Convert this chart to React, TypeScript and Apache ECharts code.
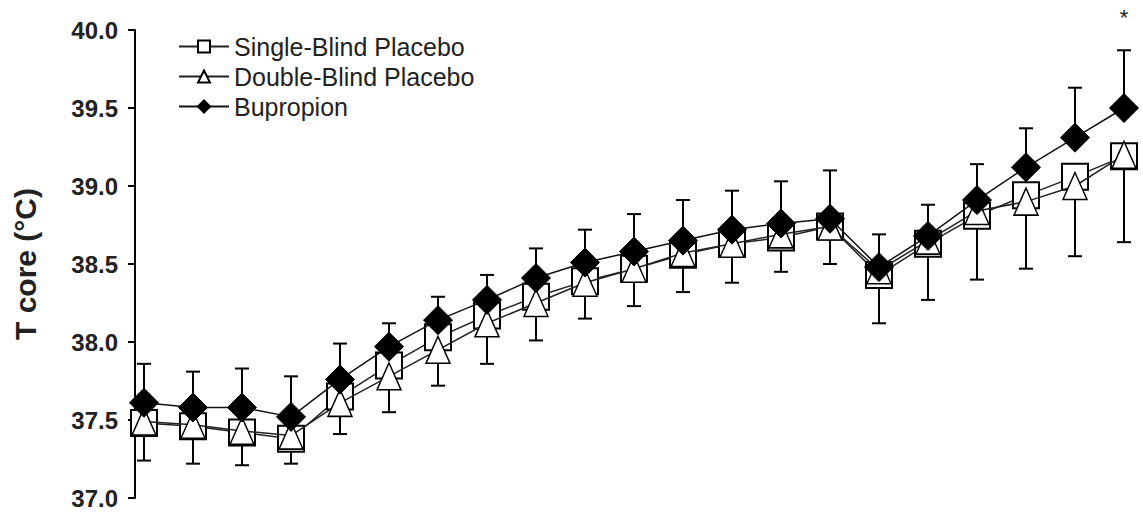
import React, { useEffect, useRef } from "react";
import * as echarts from "echarts";

const timePoints = [1, 2, 3, 4, 5, 6, 7, 8, 9, 10, 11, 12, 13, 14, 15, 16, 17, 18, 19, 20, 21];

const singleBlind = [37.48, 37.46, 37.42, 37.38, 37.65, 37.85, 38.03, 38.17, 38.29, 38.39, 38.47, 38.56, 38.63, 38.67, 38.74, 38.43, 38.63, 38.81, 38.94, 39.06, 39.19];
const singleBlindLower = [37.24, 37.22, 37.21, 37.22, 37.41, 37.55, 37.72, 37.86, 38.01, 38.15, 38.23, 38.32, 38.38, 38.45, 38.5, 38.12, 38.27, 38.4, 38.47, 38.55, 38.64];

const doubleBlind = [37.49, 37.47, 37.43, 37.4, 37.61, 37.78, 37.95, 38.12, 38.25, 38.38, 38.47, 38.57, 38.63, 38.69, 38.74, 38.46, 38.65, 38.84, 38.9, 39.0, 39.2];

const bupropion = [37.61, 37.58, 37.58, 37.52, 37.76, 37.97, 38.14, 38.27, 38.41, 38.51, 38.58, 38.65, 38.72, 38.76, 38.79, 38.48, 38.68, 38.91, 39.12, 39.31, 39.5];
const bupropionUpper = [37.86, 37.81, 37.83, 37.78, 37.99, 38.12, 38.29, 38.43, 38.6, 38.72, 38.82, 38.91, 38.97, 39.03, 39.1, 38.69, 38.88, 39.14, 39.37, 39.63, 39.87];

const yTicks = [37.0, 37.5, 38.0, 38.5, 39.0, 39.5, 40.0];
const seriesNames = ["Single-Blind Placebo", "Double-Blind Placebo", "Bupropion"];
const significance = "*";
const significantIndex = 20;

const FONT = "Liberation Sans, Arial, sans-serif";

export default function App() {
  const ref = useRef<HTMLDivElement>(null);
  useEffect(() => {
    if (!ref.current) return;
    const chart = echarts.init(ref.current, null, { renderer: "svg" });

    const errData = (means: number[], ends: number[]) =>
      timePoints.map((t, i) => [t, means[i], ends[i]]);

    const errRender = (params: any, api: any) => {
      const x = api.value(0);
      const a = api.coord([x, api.value(1)]);
      const b = api.coord([x, api.value(2)]);
      const half = 7;
      return {
        type: "group",
        children: [
          { type: "line", shape: { x1: a[0], y1: a[1], x2: b[0], y2: b[1] }, style: { stroke: "#000", lineWidth: 2 } },
          { type: "line", shape: { x1: b[0] - half, y1: b[1], x2: b[0] + half, y2: b[1] }, style: { stroke: "#000", lineWidth: 2 } },
        ],
      };
    };

    const lineStyle = { color: "#222", width: 1.5 };

    chart.setOption({
      animation: false,
      backgroundColor: "#fff",
      grid: { left: 135, right: 3, top: 30, bottom: 18 },
      legend: {
        orient: "vertical",
        left: 173,
        top: 29,
        itemWidth: 50,
        itemHeight: 15,
        itemGap: 5,
        data: seriesNames,
        textStyle: { fontFamily: FONT, fontSize: 25, color: "#222" },
      },
      xAxis: {
        type: "value",
        min: 1 - 9 / 49,
        max: 21 + 16 / 49,
        show: false,
      },
      yAxis: {
        type: "value",
        min: yTicks[0],
        max: yTicks[yTicks.length - 1],
        interval: 0.5,
        name: "T core (°C)",
        nameLocation: "middle",
        nameRotate: 90,
        nameGap: 95,
        nameTextStyle: { fontFamily: FONT, fontSize: 30, fontWeight: "bold", color: "#222" },
        axisLine: { show: true, lineStyle: { color: "#000", width: 2 } },
        axisTick: { show: true, length: 7, lineStyle: { color: "#000", width: 2 } },
        splitLine: { show: false },
        axisLabel: {
          margin: 17,
          formatter: (v: number) => v.toFixed(1),
          fontFamily: FONT,
          fontSize: 24,
          fontWeight: "bold",
          color: "#222",
        },
      },
      series: [
        {
          type: "custom",
          name: "sbErr",
          data: errData(singleBlind, singleBlindLower),
          renderItem: errRender,
          z: 1,
          silent: true,
        },
        {
          type: "custom",
          name: "bupErr",
          data: errData(bupropion, bupropionUpper),
          renderItem: errRender,
          z: 1,
          silent: true,
        },
        {
          type: "line",
          name: seriesNames[0],
          data: timePoints.map((t, i) => [t, singleBlind[i]]),
          symbol: "rect",
          symbolSize: 26,
          lineStyle,
          itemStyle: { color: "#fff", borderColor: "#000", borderWidth: 2 },
          z: 2,
        },
        {
          type: "line",
          name: seriesNames[1],
          data: timePoints.map((t, i) => [t, doubleBlind[i]]),
          symbol: "triangle",
          symbolSize: [24, 27],
          lineStyle,
          itemStyle: { color: "#fff", borderColor: "#000", borderWidth: 1.5 },
          z: 3,
        },
        {
          type: "line",
          name: seriesNames[2],
          data: timePoints.map((t, i) => [t, bupropion[i]]),
          symbol: "diamond",
          symbolSize: 29,
          lineStyle: { color: "#111", width: 1.5 },
          itemStyle: { color: "#000", borderColor: "#000", borderWidth: 1 },
          z: 4,
        },
      ],
    });

    const p = chart.convertToPixel({ gridIndex: 0 }, [timePoints[significantIndex], bupropionUpper[significantIndex]]);
    chart.setOption({
      graphic: [
        {
          type: "text",
          x: p[0],
          y: p[1] - 33,
          style: {
            text: significance,
            fontFamily: FONT,
            fontSize: 22,
            fill: "#222",
            align: "center",
            verticalAlign: "middle",
          },
        },
      ],
    });
    return () => chart.dispose();
  }, []);
  return <div ref={ref} style={{ position: "absolute", left: 0, top: 0, width: 1143, height: 516 }} />;
}
